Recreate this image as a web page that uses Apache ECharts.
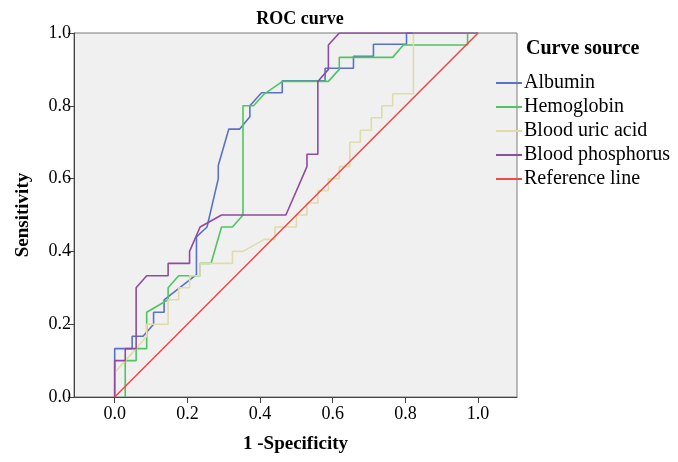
<!DOCTYPE html>
<html>
<head>
<meta charset="utf-8">
<script src="https://cdn.jsdelivr.net/npm/echarts@6/dist/echarts.min.js"></script>
<style>html,body{margin:0;padding:0;background:#fff}#c{width:678px;height:462px}</style>
</head>
<body>
<div id="c"></div>
<script>
var seriesNames = ['Albumin', 'Hemoglobin', 'Blood uric acid', 'Blood phosphorus', 'Reference line'];
var xTicks = [0, 0.2, 0.4, 0.6, 0.8, 1.0];
var yTicks = [0, 0.2, 0.4, 0.6, 0.8, 1.0];

var albumin = [[0,0],[0,0.133],[0.048,0.133],[0.048,0.167],[0.078,0.167],[0.107,0.2],[0.107,0.233],[0.136,0.233],[0.136,0.267],[0.225,0.336],[0.225,0.44],[0.254,0.467],[0.285,0.6],[0.285,0.636],[0.314,0.736],[0.344,0.736],[0.372,0.77],[0.372,0.8],[0.404,0.836],[0.461,0.836],[0.461,0.869],[0.579,0.869],[0.579,0.903],[0.657,0.903],[0.657,0.936],[0.712,0.936],[0.712,0.969],[0.803,0.969],[0.803,1],[1,1]];
var hemoglobin = [[0.029,0],[0.029,0.1],[0.059,0.1],[0.059,0.133],[0.088,0.133],[0.088,0.233],[0.147,0.267],[0.147,0.3],[0.176,0.333],[0.235,0.333],[0.235,0.367],[0.265,0.367],[0.294,0.467],[0.324,0.467],[0.353,0.5],[0.353,0.8],[0.382,0.8],[0.412,0.833],[0.462,0.867],[0.588,0.867],[0.618,0.9],[0.618,0.933],[0.765,0.933],[0.794,0.967],[0.971,0.967],[0.971,1],[1,1]];
var uricAcid = [[0,0],[0,0.067],[0.029,0.1],[0.059,0.133],[0.088,0.167],[0.088,0.2],[0.147,0.2],[0.147,0.267],[0.176,0.267],[0.176,0.3],[0.206,0.3],[0.206,0.333],[0.235,0.333],[0.235,0.367],[0.324,0.367],[0.324,0.4],[0.353,0.4],[0.412,0.433],[0.441,0.433],[0.441,0.467],[0.5,0.467],[0.5,0.5],[0.529,0.5],[0.529,0.533],[0.559,0.533],[0.559,0.567],[0.588,0.567],[0.588,0.6],[0.618,0.6],[0.618,0.633],[0.647,0.633],[0.647,0.7],[0.676,0.7],[0.676,0.733],[0.706,0.733],[0.706,0.767],[0.735,0.767],[0.735,0.8],[0.765,0.8],[0.765,0.833],[0.822,0.833],[0.822,1],[1,1]];
var phosphorus = [[0,0],[0,0.1],[0.029,0.1],[0.029,0.133],[0.059,0.133],[0.059,0.3],[0.088,0.333],[0.147,0.333],[0.147,0.367],[0.206,0.367],[0.206,0.4],[0.235,0.467],[0.294,0.5],[0.471,0.5],[0.529,0.633],[0.529,0.667],[0.559,0.667],[0.559,0.867],[0.588,0.9],[0.588,0.967],[0.618,1],[1,1]];
var referenceLine = [[0,0],[1,1]];

var colors = ['#5a72c6', '#4ec55f', '#e0dba8', '#8f4b9f', '#f24a4a'];
var dataList = [albumin, hemoglobin, uricAcid, phosphorus, referenceLine];

var serif = 'Liberation Serif';
var chart = echarts.init(document.getElementById('c'), null, {renderer: 'canvas'});
chart.setOption({
  animation: false,
  backgroundColor: '#ffffff',
  title: {
    text: 'ROC curve', left: 295, top: 5, textAlign: 'center',
    textStyle: {fontFamily: serif, fontWeight: 'bold', fontSize: 18, color: '#000'}
  },
  graphic: [{
    type: 'text', left: 526, top: 39,
    style: {text: 'Curve source', fontFamily: serif, fontWeight: 'bold', fontSize: 20, fill: '#000'}
  }],
  legend: {
    orient: 'vertical', left: 491, top: 68, itemGap: 4,
    icon: 'rect', itemWidth: 26, itemHeight: 2,
    data: seriesNames,
    textStyle: {fontFamily: serif, fontSize: 20, color: '#000', padding: [0,0,0,-3]}
  },
  grid: {
    left: 74, right: 161, top: 33, bottom: 65,
    show: true, backgroundColor: '#f0f0f0', borderColor: '#7a7a7a', borderWidth: 1
  },
  xAxis: {
    type: 'value', min: -0.112, max: 1.107,
    name: '1 -Specificity', nameLocation: 'middle', nameGap: 38,
    nameTextStyle: {fontFamily: serif, fontWeight: 'bold', fontSize: 19, color: '#000'},
    axisLine: {show: true, onZero: false, lineStyle: {color: '#444', width: 1}},
    axisTick: {show: true, customValues: xTicks, length: 6, inside: false, lineStyle: {color: '#444'}},
    axisLabel: {customValues: xTicks, margin: 8, fontFamily: serif, fontSize: 18, color: '#000',
      formatter: function (v) { return v.toFixed(1); }},
    splitLine: {show: false}
  },
  yAxis: {
    type: 'value', min: 0, max: 1, interval: 0.2,
    name: 'Sensitivity', nameLocation: 'middle', nameGap: 41, nameRotate: 90,
    nameTextStyle: {fontFamily: serif, fontWeight: 'bold', fontSize: 19, color: '#000'},
    axisLine: {show: true, onZero: false, lineStyle: {color: '#444', width: 1}},
    axisTick: {show: true, length: 6, inside: false, lineStyle: {color: '#444'}},
    axisLabel: {margin: 3, fontFamily: serif, fontSize: 18, color: '#000',
      formatter: function (v) { return v.toFixed(1); }},
    splitLine: {show: false}
  },
  series: seriesNames.map(function (n, i) {
    return {
      name: n, type: 'line', data: dataList[i], showSymbol: false, symbol: 'none',
      lineStyle: {color: colors[i], width: 1.6}, itemStyle: {color: colors[i]},
      clip: true, z: 2 + i
    };
  })
});
</script>
</body>
</html>
